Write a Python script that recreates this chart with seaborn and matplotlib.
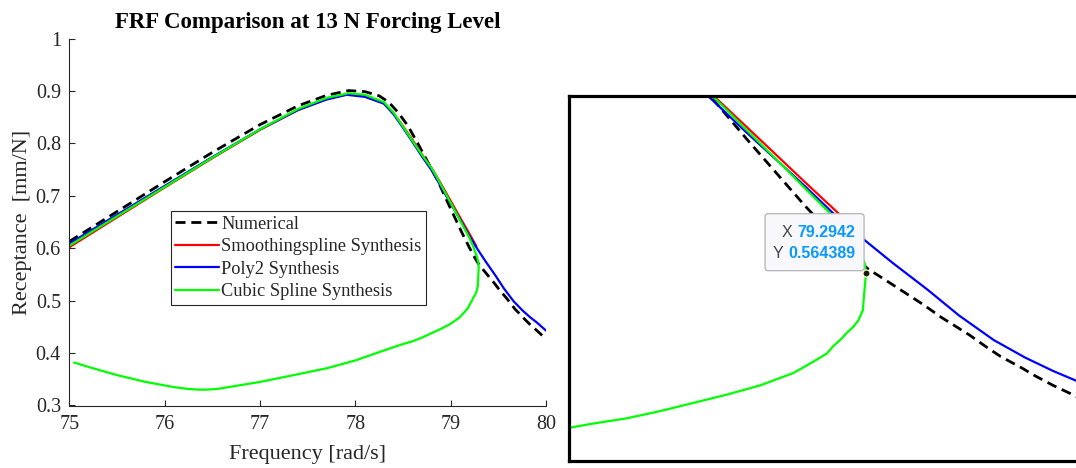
import matplotlib
matplotlib.use("Agg")
import matplotlib.pyplot as plt
import matplotlib.transforms as mtransforms
from matplotlib.patches import FancyBboxPatch
import seaborn as sns

# ---------------- data ----------------
num_x = [75.00, 75.50, 76.00, 76.50, 77.00, 77.40, 77.70, 77.93, 78.10, 78.25,
         78.35, 78.45, 78.55, 78.65, 78.75, 78.86, 78.95, 79.04, 79.12, 79.20,
         79.26, 79.30, 79.36, 79.41, 79.46, 79.51, 79.59, 79.64, 79.68, 79.74,
         79.78, 79.83, 79.88, 79.94, 80.00]
num_y = [0.613, 0.670, 0.727, 0.783, 0.836, 0.872, 0.892, 0.901, 0.899, 0.891,
         0.879, 0.859, 0.834, 0.802, 0.768, 0.731, 0.695, 0.660, 0.629, 0.600,
         0.580, 0.568, 0.555, 0.544, 0.533, 0.521, 0.504, 0.492, 0.483, 0.472,
         0.464, 0.455, 0.447, 0.437, 0.427]

smooth_x = [75.00, 75.50, 76.00, 76.50, 77.00, 77.40, 77.70, 77.91, 78.10, 78.30,
            78.40, 78.50, 78.60, 78.70, 78.80, 78.87, 78.95, 79.05, 79.12, 79.215,
            79.27]
smooth_y = [0.602, 0.659, 0.716, 0.772, 0.826, 0.864, 0.885, 0.894, 0.891, 0.877,
            0.858, 0.833, 0.807, 0.779, 0.753, 0.732, 0.7065, 0.6745, 0.652, 0.622,
            0.604]

poly_x = [75.00, 75.50, 76.00, 76.50, 77.00, 77.40, 77.70, 77.91, 78.10, 78.30,
          78.40, 78.50, 78.60, 78.70, 78.80, 78.86, 78.95, 79.05, 79.12, 79.20,
          79.29, 79.37, 79.47, 79.56, 79.66, 79.75, 79.83, 79.90, 80.00]
poly_y = [0.609, 0.664, 0.719, 0.774, 0.827, 0.864, 0.884, 0.893, 0.889, 0.876,
          0.856, 0.830, 0.803, 0.775, 0.749, 0.730, 0.701, 0.670, 0.648, 0.622,
          0.596, 0.574, 0.548, 0.523, 0.499, 0.482, 0.469, 0.459, 0.443]

cubic_x = [75.00, 75.50, 76.00, 76.50, 77.00, 77.40, 77.70, 77.93, 78.10, 78.30,
           78.40, 78.50, 78.60, 78.70, 78.80, 78.866, 78.95, 79.05, 79.12, 79.191,
           79.24, 79.275, 79.29, 79.2942,
           79.288, 79.285, 79.272, 79.258, 79.239, 79.220, 79.200, 79.182, 79.143,
           79.086, 79.038, 78.991, 78.895, 78.799, 78.704, 78.608, 78.513, 78.446,
           78.300, 78.000, 77.700, 77.300, 77.000, 76.700, 76.550, 76.400, 76.250,
           76.100, 75.800, 75.500, 75.250, 75.050]
cubic_y = [0.605, 0.661, 0.717, 0.773, 0.827, 0.866, 0.887, 0.896, 0.893, 0.879,
           0.859, 0.832, 0.805, 0.778, 0.753, 0.732, 0.7035, 0.670, 0.646, 0.622,
           0.602, 0.584, 0.574, 0.564389,
           0.541, 0.528, 0.518, 0.512, 0.506, 0.499, 0.493, 0.486, 0.478,
           0.467, 0.461, 0.455, 0.446, 0.438, 0.430, 0.423, 0.418, 0.414,
           0.405, 0.386, 0.371, 0.356, 0.345, 0.336, 0.3315, 0.330, 0.3315,
           0.335, 0.345, 0.358, 0.371, 0.382]

labels = ["Numerical", "Smoothingspline Synthesis", "Poly2 Synthesis",
          "Cubic Spline Synthesis"]
x_ticks = [75, 76, 77, 78, 79, 80]
y_ticks = [0.3, 0.4, 0.5, 0.6, 0.7, 0.8, 0.9, 1.0]
y_ticklabels = ["0.3", "0.4", "0.5", "0.6", "0.7", "0.8", "0.9", "1"]
tip_x, tip_y = 79.2942, 0.564389
zoom_xlim = (78.443, 79.99)
zoom_ylim = (0.3816, 0.7359)

# ---------------- style ----------------
sns.set_theme(style="white")
plt.rcParams['font.family'] = ['Liberation Serif', 'DejaVu Serif']
plt.rcParams.update({
    "xtick.bottom": True, "ytick.left": True,
    "xtick.top": False, "ytick.right": False,
    "xtick.direction": "in", "ytick.direction": "in",
    "xtick.major.size": 4.3, "ytick.major.size": 4.3,
    "xtick.major.width": 0.8, "ytick.major.width": 0.8,
    "xtick.color": "#262626", "ytick.color": "#262626",
})

W, H = 1076, 468
fig = plt.figure(figsize=(W / 100, H / 100), dpi=100)
fig.patch.set_facecolor("white")

series = [
    (num_x, num_y, "black", 2.0, True),
    (smooth_x, smooth_y, "#ff0000", 1.6, False),
    (poly_x, poly_y, "#0000ff", 1.6, False),
    (cubic_x, cubic_y, "#00ff00", 1.6, False),
]


def draw_lines(ax, with_labels):
    handles = []
    for (xs, ys, col, lw, dashed), lab in zip(series, labels):
        n_before = len(ax.lines)
        sns.lineplot(x=xs, y=ys, sort=False, estimator=None, color=col,
                     linewidth=lw, ax=ax, legend=False,
                     label=lab if with_labels else None)
        line = ax.lines[n_before]
        line.set_solid_joinstyle("round")
        if dashed:
            line.set_dashes((3.6, 2.1))
        handles.append(line)
    return handles


# ---------------- main axes ----------------
ax = fig.add_axes([69.3 / W, (H - 405.5) / H, 476.7 / W, 366.8 / H])
handles = draw_lines(ax, True)
ax.set_xlim(75, 80)
ax.set_ylim(0.3, 1.0)
ax.set_xticks(x_ticks)
ax.set_xticklabels([str(t) for t in x_ticks])
ax.set_yticks(y_ticks)
ax.set_yticklabels(y_ticklabels)
for side in ["left", "bottom"]:
    ax.spines[side].set_color("#262626")
    ax.spines[side].set_linewidth(0.8)
sns.despine(ax=ax)
ax.tick_params(axis="both", which="major", direction="in", length=4.3,
               width=0.8, color="#262626", labelcolor="#262626",
               labelsize=14.5, bottom=True, left=True, top=False, right=False)
ax.tick_params(axis="x", pad=7)
ax.tick_params(axis="y", pad=6)
ax.set_xlabel("Frequency [rad/s]", fontsize=16, color="#262626", labelpad=8)
ax.set_ylabel("Receptance  [mm/N]", fontsize=16, color="#262626", labelpad=3)
ax.set_title("FRF Comparison at 13 N Forcing Level", fontsize=16.5,
             fontweight="bold", color="black", pad=8)

leg = ax.legend(handles, labels, loc="upper left",
                bbox_to_anchor=(0.2127, 0.530), fontsize=13.2, frameon=True,
                fancybox=False, framealpha=1, edgecolor="#262626",
                handlelength=2.4, handletextpad=0.1, labelspacing=0.3,
                borderpad=0.25, borderaxespad=0)
leg.get_frame().set_linewidth(0.8)

# ---------------- zoomed inset ----------------
in_w = (zoom_xlim[1] - zoom_xlim[0]) * 349
ax_in = fig.add_axes([569 / W, (H - 461) / H, in_w / W, 365 / H])
draw_lines(ax_in, False)
ax_in.set_xlim(*zoom_xlim)
ax_in.set_ylim(*zoom_ylim)
ax_in.set_xticks([])
ax_in.set_yticks([])
ax_in.set_xlabel("")
ax_in.set_ylabel("")
ax_in.tick_params(length=0)
for sp in ax_in.spines.values():
    sp.set_visible(True)
    sp.set_color("black")
    sp.set_linewidth(2.3)

# data tip
ax_in.plot([tip_x], [tip_y], marker="o", markersize=5, color="#1a1a1a",
           markeredgecolor="#ffffcc", markeredgewidth=0.8, zorder=6,
           clip_on=False)
px, py = ax_in.transData.transform((tip_x, tip_y))
ident = mtransforms.IdentityTransform()
box = FancyBboxPatch((px - 101, py + 2), 99, 57,
                     boxstyle="round,pad=0,rounding_size=3",
                     facecolor="#f8f8fc", edgecolor="#b4b4b4", linewidth=0.9,
                     transform=ident, zorder=20)
fig.add_artist(box)
tip_font = dict(family=["Liberation Sans", "DejaVu Sans"], fontsize=11.5,
                transform=ident, zorder=21, va="center")
fig.text(px - 11, py + 40, f"{tip_x:g}", ha="right", color="#0a99ff",
         fontweight="bold", **tip_font)
fig.text(px - 11, py + 19, f"{tip_y:g}", ha="right", color="#0a99ff",
         fontweight="bold", **tip_font)
fig.text(px - 74, py + 40, "X", ha="right", color="#454545", **tip_font)
fig.text(px - 83, py + 19, "Y", ha="right", color="#454545", **tip_font)

fig.savefig("out.png", dpi=100, facecolor="white")
